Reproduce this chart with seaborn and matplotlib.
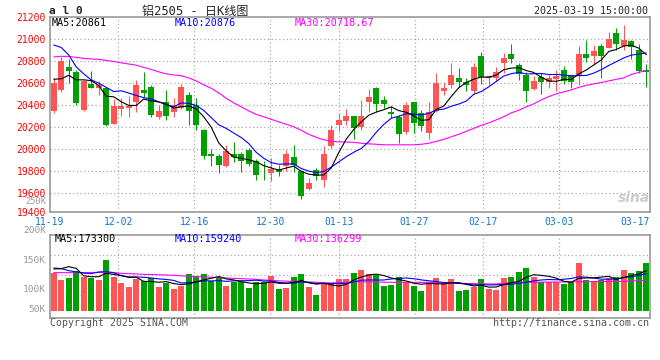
import numpy as np
import pandas as pd
import seaborn as sns
import matplotlib.pyplot as plt

# ---- data (al2505 daily, 2024-11-19 .. 2025-03-19) ----
opens = [20348, 20539, 20751, 20706, 20358, 20594, 20560, 20560, 20230, 20369,
         20378, 20433, 20539, 20564, 20288, 20433, 20342, 20378, 20494, 20403,
         20176, 19957, 19939, 19848, 19957, 19957, 19994, 19891, 19812, 19782,
         19821, 19842, 19927, 19797, 19639, 19812, 19715, 20024, 20221, 20260,
         20297, 20200, 20433, 20555, 20448, 20342, 20291, 20160, 20433, 20333,
         20151, 20348, 20530, 20585, 20651, 20615, 20533, 20848, 20645, 20651,
         20788, 20867, 20767, 20676, 20548, 20660, 20615, 20639, 20721, 20676,
         20676, 20867, 20851, 20939, 20924, 21054, 20939, 20985, 20903, 20721]
closes = [20600, 20803, 20712, 20418, 20621, 20560, 20585, 20221, 20394, 20394,
          20394, 20585, 20509, 20312, 20348, 20297, 20403, 20569, 20348, 20215,
          19933, 19933, 19851, 19987, 19924, 19888, 19860, 19767, 19806, 19821,
          19788, 19957, 19851, 19569, 19691, 19751, 19957, 20176, 20267, 20303,
          20191, 20303, 20478, 20409, 20412, 20318, 20136, 20403, 20242, 20212,
          20342, 20605, 20560, 20676, 20609, 20585, 20751, 20660, 20666, 20706,
          20833, 20821, 20682, 20533, 20621, 20615, 20651, 20666, 20621, 20615,
          20867, 20833, 20894, 20848, 21003, 20957, 20994, 20927, 20715, 20706]
highs = [20645, 20842, 20818, 20721, 20630, 20712, 20621, 20569, 20457, 20464,
         20485, 20630, 20700, 20585, 20403, 20539, 20464, 20594, 20518, 20464,
         20180, 20003, 19955, 20039, 20069, 19978, 20009, 19906, 19888, 19918,
         19857, 19994, 20039, 19812, 19736, 19827, 20024, 20221, 20327, 20364,
         20303, 20448, 20545, 20569, 20485, 20388, 20312, 20433, 20433, 20358,
         20433, 20691, 20615, 20782, 20736, 20645, 20782, 20882, 20676, 20751,
         20873, 20957, 20782, 20706, 20669, 20691, 20676, 20721, 20760, 20676,
         20939, 20994, 20948, 20954, 21069, 21100, 21130, 20994, 20954, 20776]
lows = [20327, 20518, 20606, 20402, 20348, 20555, 20494, 20206, 20227, 20300,
        20291, 20342, 20478, 20291, 20273, 20267, 20291, 20364, 20215, 20176,
        19912, 19848, 19782, 19833, 19887, 19787, 19842, 19715, 19721, 19706,
        19757, 19797, 19788, 19545, 19624, 19721, 19654, 20009, 20161, 20215,
        20091, 20176, 20342, 20342, 20373, 20282, 20060, 20136, 20145, 20161,
        20091, 20342, 20494, 20555, 20569, 20533, 20503, 20594, 20585, 20621,
        20691, 20782, 20630, 20433, 20539, 20500, 20560, 20527, 20591, 20560,
        20585, 20797, 20776, 20645, 20918, 20903, 20903, 20821, 20691, 20569]

# volume in thousands of lots
volumes_k = [161.3, 132.4, 142.4, 171.1, 144.0, 142.4, 132.4, 218.4, 144.0, 120.9,
             103.7, 135.4, 128.1, 142.4, 103.7, 118.2, 92.4, 106.6, 158.2, 148.1,
             158.2, 128.1, 144.0, 108.0, 125.2, 122.3, 99.4, 125.2, 122.3, 151.0,
             93.6, 99.4, 146.6, 158.2, 103.6, 67.8, 113.7, 113.7, 135.3, 136.7,
             164.0, 175.4, 158.2, 153.9, 106.5, 110.9, 143.9, 125.2, 106.5, 85.1,
             125.2, 139.7, 118.1, 136.7, 85.1, 89.4, 103.6, 136.7, 93.6, 89.4,
             139.7, 143.9, 165.4, 182.6, 143.9, 125.2, 125.2, 125.2, 115.2, 125.2,
             207.0, 132.4, 128.1, 132.4, 139.7, 143.9, 175.4, 164.0, 171.1, 207.0]

# moving averages that reach back before the first visible day
ma5_head = [20636, 20640, 20672, 20630]
ma10_head = [20948, 20925, 20857, 20748, 20685, 20630, 20600, 20562, 20524]
ma30 = [20839, 20845, 20844, 20835, 20826, 20821, 20817, 20807, 20798, 20785,
        20775, 20764, 20744, 20725, 20703, 20685, 20675, 20668, 20648, 20621,
        20585, 20553, 20512, 20462, 20421, 20385, 20348, 20316, 20294, 20271,
        20248, 20226, 20203, 20171, 20135, 20107, 20085, 20071, 20066, 20064,
        20062, 20053, 20048, 20044, 20039, 20039, 20039, 20039, 20039, 20044,
        20053, 20071, 20089, 20112, 20135, 20162, 20189, 20216, 20239, 20266,
        20294, 20330, 20353, 20385, 20412, 20448, 20478, 20503, 20521, 20539,
        20562, 20580, 20594, 20607, 20621, 20635, 20648, 20680, 20698, 20716]
vol_ma5_head = [179.7, 181.2, 189.8, 182.6]
vol_ma10_head = [184.0, 181.2, 172.6, 166.8, 162.5, 159.7, 166.8, 168.3, 164.0]
vol_ma30 = [164.0, 164.0, 164.0, 164.0, 164.0, 164.7, 165.4, 165.4, 164.0, 161.1,
            159.7, 158.2, 156.8, 156.1, 154.7, 153.9, 152.5, 150.4, 148.9, 147.5,
            146.1, 143.9, 142.5, 141.0, 139.6, 138.2, 136.7, 135.3, 132.4, 131.0,
            128.9, 127.4, 126.0, 124.6, 123.8, 122.4, 121.0, 119.5, 121.0, 122.4,
            123.8, 125.3, 124.6, 123.8, 123.1, 122.4, 122.4, 122.4, 122.4, 122.4,
            122.4, 121.0, 120.3, 119.5, 118.1, 117.4, 116.7, 116.0, 115.2, 115.2,
            118.1, 121.0, 121.7, 122.4, 122.4, 123.1, 123.1, 123.8, 123.8, 124.6,
            124.6, 125.3, 125.3, 126.0, 126.0, 126.7, 126.7, 128.1, 129.6, 131.0]

date_labels = ['11-19', '12-02', '12-16', '12-30', '01-13', '01-27', '02-17', '03-03', '03-17']
date_index = [0, 9, 19, 29, 38, 48, 57, 67, 77]
price_ticks = [19400, 19600, 19800, 20000, 20200, 20400, 20600, 20800, 21000, 21200]
vol_labels = ['250K', '200K', '150K', '100K', '50K']

RED = '#ff5555'
GREEN = '#00a000'
GRID = '#aaaaaa'
FRAME = '#999999'

n = len(closes)
idx = np.arange(n)
o = np.array(opens)
c = np.array(closes)
up = c >= o
cols = np.where(up, RED, GREEN)

ma5 = pd.Series(c).rolling(5).mean().values
ma5[:4] = ma5_head
ma10 = pd.Series(c).rolling(10).mean().values
ma10[:9] = ma10_head

vol = np.array(volumes_k) * 1000
vma5 = pd.Series(vol).rolling(5).mean().values
vma5[:4] = np.array(vol_ma5_head) * 1000
vma10 = pd.Series(vol).rolling(10).mean().values
vma10[:9] = np.array(vol_ma10_head) * 1000
vma30 = np.array(vol_ma30) * 1000

sns.set_style('white')
plt.rcParams['font.family'] = ['DejaVu Sans Mono', 'Noto Sans CJK SC']

W, H = 660, 360
fig = plt.figure(figsize=(6.6, 3.6), dpi=100)


def fx(x):
    return x / W


def fy(y):
    return 1 - y / H


ax = fig.add_axes([fx(50), fy(211.7), fx(600), 194.4 / H])
axv = fig.add_axes([fx(50), fy(317.7), fx(600), 83 / H])

# sina puts the date grid on a slightly different spacing than the candles
tick_pos = [-0.5 + i * n / (n - 1) for i in date_index]
grid_pos = tick_pos[1:-1]

# ---- price panel ----
ax.vlines(idx, lows, highs, colors=cols, lw=0.75, zorder=2)
body = np.maximum(np.abs(c - o), 8)
ax.bar(idx, body, bottom=np.minimum(o, c), width=0.76, color=cols, linewidth=0, zorder=3)

sns.lineplot(x=idx, y=ma30, color='#ff00ff', lw=0.8, ax=ax, zorder=4)
sns.lineplot(x=idx, y=ma10, color='#0000ff', lw=0.8, ax=ax, zorder=5)
sns.lineplot(x=idx, y=ma5, color='black', lw=0.8, ax=ax, zorder=6)

ax.set_xlim(-0.5, n - 0.5)
ax.set_ylim(19430, 21200)
ytick_pos = [19430] + price_ticks[1:]
ax.set_yticks(ytick_pos, [str(v) for v in price_ticks])
ax.set_xticks(tick_pos, date_labels)
ax.tick_params(axis='y', length=0, pad=3, labelsize=7.0, labelcolor='#ff0000')
ax.tick_params(axis='x', length=0, pad=4, labelsize=7, labelcolor='#1874cd')
for v in price_ticks[1:-1]:
    ax.axhline(v, color=GRID, lw=0.9, ls=(0, (1, 2)), zorder=1)
for p in grid_pos:
    ax.axvline(p, color=GRID, lw=0.9, ls=(0, (1, 2)), zorder=1)
ax.set_xlabel('')
ax.set_ylabel('')

# ---- volume panel ----
dirs = np.where(up, 'up', 'down')
sns.barplot(x=idx, y=vol, hue=dirs, palette={'up': RED, 'down': GREEN}, dodge=False,
            width=0.76, saturation=1, legend=False, linewidth=0, ax=axv, zorder=3)
sns.lineplot(x=idx, y=vma30, color='#ff00ff', lw=0.8, ax=axv, zorder=4)
sns.lineplot(x=idx, y=vma10, color='#0000ff', lw=0.8, ax=axv, zorder=5)
sns.lineplot(x=idx, y=vma5, color='black', lw=0.8, ax=axv, zorder=6)
axv.set_xlim(-0.5, n - 0.5)
axv.set_ylim(-29700, 327200)
axv.set_xticks([])
axv.set_yticks([])
for v in [68000, 154000, 240000]:
    axv.axhline(v, color=GRID, lw=0.9, ls=(0, (1, 2)), zorder=1)
for p in grid_pos:
    axv.axvline(p, color=GRID, lw=0.9, ls=(0, (1, 2)), zorder=1)
axv.set_xlabel('')
axv.set_ylabel('')

for a in (ax, axv):
    for s in a.spines.values():
        s.set_color(FRAME)
        s.set_linewidth(1.2)
        s.set_visible(True)

# ---- texts ----
fig.text(fx(49), fy(11.5), 'a l 0', fontsize=8, fontweight='bold', ha='left', va='center')
fig.text(fx(195), fy(11.5), '铝2505 - 日K线图', fontsize=8.7, ha='center', va='center')
fig.text(fx(648), fy(11.5), '2025-03-19 15:00:00', fontsize=7.2, ha='right', va='center')

fig.text(fx(52), fy(23.5), 'MA5:20861', color='black', fontsize=7.3, va='center')
fig.text(fx(175), fy(23.5), 'MA10:20876', color='#0000ff', fontsize=7.3, va='center')
fig.text(fx(295), fy(23.5), 'MA30:20718.67', color='#ff00ff', fontsize=7.3, va='center')

fig.text(fx(55), fy(238.5), 'MA5:173300', color='black', fontsize=7.3, va='center')
fig.text(fx(175), fy(238.5), 'MA10:159240', color='#0000ff', fontsize=7.3, va='center')
fig.text(fx(295), fy(238.5), 'MA30:136299', color='#ff00ff', fontsize=7.3, va='center')

vol_label_y = [202, 230.5, 260.5, 290, 310]
vol_label_size = [6.2, 6.8, 6.8, 6.8, 6.8]
for lab, yy, fs in zip(vol_labels, vol_label_y, vol_label_size):
    fig.text(fx(46), fy(yy), lab, color='#999999', fontsize=fs, ha='right', va='center')

fig.text(fx(50), fy(323), 'Copyright 2025 SINA.COM', color='#555555', fontsize=7.1,
         ha='left', va='center')
fig.text(fx(649), fy(323.5), 'http://finance.sina.com.cn', color='#555555', fontsize=7.2,
         ha='right', va='center')
fig.text(fx(634), fy(198), 'sina', color='#cccccc', fontsize=10, fontweight='bold',
         style='italic', ha='center', va='center', family='DejaVu Sans')

fig.savefig('out.png', dpi=100)
